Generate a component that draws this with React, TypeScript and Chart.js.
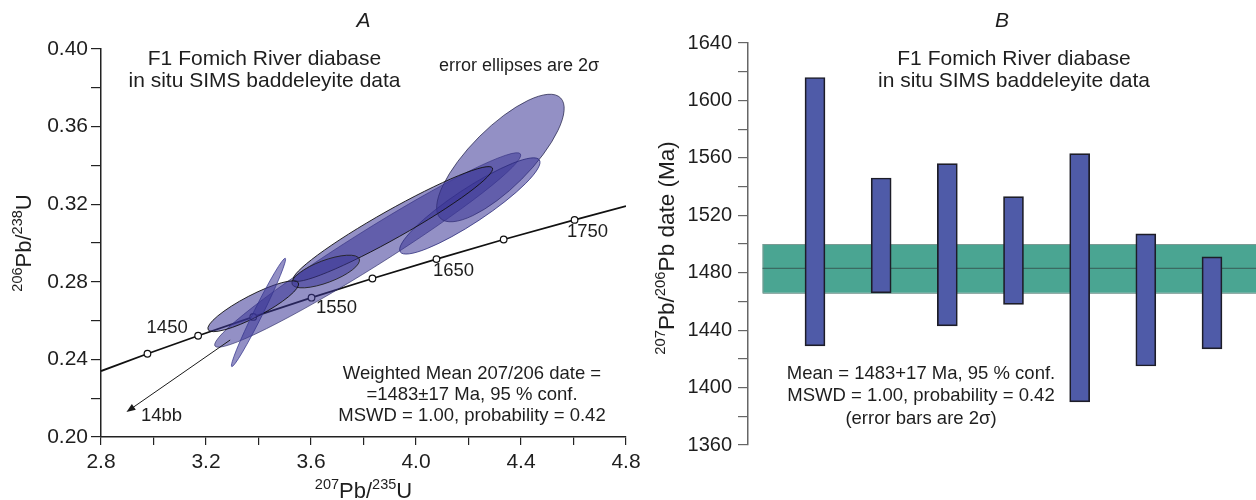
import React, { useEffect, useRef } from "react";
import { Chart, registerables } from "chart.js";

Chart.register(...registerables);

const FONT = '"Liberation Sans", Arial, Helvetica, sans-serif';

// ---------------- Panel A: concordia diagram ----------------
const concordiaX = [2.8, 2.977, 3.17, 3.38, 3.602, 3.834, 4.078, 4.334, 4.604, 4.8];
const concordiaY = [0.234, 0.2429, 0.2522, 0.2619, 0.2718, 0.2817, 0.2917, 0.3018, 0.3119, 0.319];
const markerAges = [1400, 1450, 1500, 1550, 1600, 1650, 1700, 1750];
const markerX = [2.977, 3.17, 3.38, 3.602, 3.834, 4.078, 4.334, 4.604];
const markerY = [0.2429, 0.2522, 0.2619, 0.2718, 0.2817, 0.2917, 0.3018, 0.3119];
const labelledAges = [1450, 1550, 1650, 1750];

// error ellipses: centre, one end of the major axis, minor/major ratio
const ellipseCx = [3.816, 4.3215, 4.205, 3.912, 3.656, 3.38, 3.4];
const ellipseCy = [0.2964, 0.3438, 0.3191, 0.3098, 0.2853, 0.2674, 0.2642];
const ellipseTipX = [4.398, 4.5506, 4.47, 4.291, 3.784, 3.552, 3.502];
const ellipseTipY = [0.3459, 0.3748, 0.3428, 0.3387, 0.2918, 0.2795, 0.2921];
const ellipseRatio = [0.1, 0.353, 0.204, 0.123, 0.31, 0.216, 0.075];

const arrowFrom = [3.292, 0.25];
const arrowTo = [2.897, 0.2129];
const arrowLabel = "14bb";

const titleLines = ["F1 Fomich River diabase", "in situ SIMS baddeleyite data"];
const noteA = "error ellipses are 2\u03C3";
const statsA = [
  "Weighted Mean 207/206 date =",
  "=1483\u00B117 Ma, 95 % conf.",
  "MSWD = 1.00, probability = 0.42",
];

// ---------------- Panel B: 207Pb/206Pb dates ----------------
const analysisNo = [1, 2, 3, 4, 5, 6, 7];
const ageLow = [1429, 1466, 1443, 1458, 1390, 1415, 1427];
const ageHigh = [1616, 1546, 1556, 1533, 1563, 1507, 1491];
const meanAge = 1483;
const meanErr = 17;
const statsB = [
  "Mean = 1483+17 Ma, 95 % conf.",
  "MSWD = 1.00, probability = 0.42",
  "(error bars are 2\u03C3)",
];

// ---------------- styles ----------------
const ellipseFill = "rgba(58,52,150,0.55)";
const ellipseStroke = [
  "rgba(40,40,100,0.7)",
  "rgba(30,30,70,0.8)",
  "rgba(40,40,120,0.85)",
  "#111",
  "#222",
  "#111",
  "rgba(50,50,140,0.8)",
];
const ageLabelOffset: Record<number, [number, number]> = {
  1450: [-31, -8],
  1550: [25, 10],
  1650: [17, 12],
  1750: [13, 12],
};

type Part = [string, boolean];

function drawText(
  ctx: CanvasRenderingContext2D,
  str: string,
  x: number,
  y: number,
  size: number,
  italic = false,
  align: CanvasTextAlign = "center",
  color = "#1e1e1e"
) {
  ctx.save();
  ctx.font = `${italic ? "italic " : ""}${size}px ${FONT}`;
  ctx.fillStyle = color;
  ctx.textAlign = align;
  ctx.textBaseline = "middle";
  ctx.fillText(str, x, y);
  ctx.restore();
}

function drawRich(
  ctx: CanvasRenderingContext2D,
  parts: Part[],
  x: number,
  y: number,
  size: number,
  rotate = false,
  color = "#1e1e1e"
) {
  ctx.save();
  ctx.translate(x, y);
  if (rotate) ctx.rotate(-Math.PI / 2);
  const sup = size * 0.66;
  const widths = parts.map(([t, s]) => {
    ctx.font = `${s ? sup : size}px ${FONT}`;
    return ctx.measureText(t).width;
  });
  const total = widths.reduce((a, b) => a + b, 0);
  let cx = -total / 2;
  const base = size * 0.36;
  ctx.fillStyle = color;
  ctx.textAlign = "left";
  ctx.textBaseline = "alphabetic";
  parts.forEach(([t, s], i) => {
    ctx.font = `${s ? sup : size}px ${FONT}`;
    ctx.fillText(t, cx, s ? base - size * 0.4 : base);
    cx += widths[i];
  });
  ctx.restore();
}

const ellipsePlugin = {
  id: "ellipses",
  afterDatasetsDraw(chart: any) {
    const { ctx, chartArea, scales } = chart;
    const xs = scales.x;
    const ys = scales.y;
    ctx.save();
    ctx.beginPath();
    ctx.rect(chartArea.left, chartArea.top, chartArea.right - chartArea.left, chartArea.bottom - chartArea.top);
    ctx.clip();
    for (let i = 0; i < ellipseCx.length; i++) {
      const px = xs.getPixelForValue(ellipseCx[i]);
      const py = ys.getPixelForValue(ellipseCy[i]);
      const tx = xs.getPixelForValue(ellipseTipX[i]);
      const ty = ys.getPixelForValue(ellipseTipY[i]);
      const a = Math.hypot(tx - px, ty - py);
      const ang = Math.atan2(ty - py, tx - px);
      ctx.beginPath();
      ctx.ellipse(px, py, a, a * ellipseRatio[i], ang, 0, Math.PI * 2);
      ctx.fillStyle = ellipseFill;
      ctx.fill();
      ctx.lineWidth = 0.9;
      ctx.strokeStyle = ellipseStroke[i];
      ctx.stroke();
    }
    ctx.restore();

    // arrow towards 14bb
    const x1 = xs.getPixelForValue(arrowFrom[0]);
    const y1 = ys.getPixelForValue(arrowFrom[1]);
    const x2 = xs.getPixelForValue(arrowTo[0]);
    const y2 = ys.getPixelForValue(arrowTo[1]);
    const ang = Math.atan2(y2 - y1, x2 - x1);
    ctx.save();
    ctx.strokeStyle = "#1a1a1a";
    ctx.fillStyle = "#1a1a1a";
    ctx.lineWidth = 1;
    ctx.beginPath();
    ctx.moveTo(x1, y1);
    ctx.lineTo(x2 - Math.cos(ang) * 6, y2 - Math.sin(ang) * 6);
    ctx.stroke();
    ctx.beginPath();
    ctx.moveTo(x2, y2);
    ctx.lineTo(x2 - Math.cos(ang) * 9 + Math.sin(ang) * 3.5, y2 - Math.sin(ang) * 9 - Math.cos(ang) * 3.5);
    ctx.lineTo(x2 - Math.cos(ang) * 9 - Math.sin(ang) * 3.5, y2 - Math.sin(ang) * 9 + Math.cos(ang) * 3.5);
    ctx.closePath();
    ctx.fill();
    ctx.restore();
    drawText(ctx, arrowLabel, x2 + 35, y2 + 4, 18.5);

    // concordia age labels
    labelledAges.forEach((age) => {
      const k = markerAges.indexOf(age);
      const off = ageLabelOffset[age];
      const mx = xs.getPixelForValue(markerX[k]);
      const my = ys.getPixelForValue(markerY[k]);
      drawText(ctx, String(age), mx + off[0], my + off[1], 18.5);
    });
  },
};

const textPluginA = {
  id: "textA",
  afterDraw(chart: any) {
    const { ctx, chartArea } = chart;
    const cx = (chartArea.left + chartArea.right) / 2;
    drawText(ctx, "A", cx, 21, 21, true);
    drawText(ctx, titleLines[0], 264.5, 59, 21);
    drawText(ctx, titleLines[1], 264.5, 81, 21);
    drawText(ctx, noteA, 519, 66, 18);
    statsA.forEach((s, i) => drawText(ctx, s, 472, 373.5 + i * 21, 18.5));
    drawRich(ctx, [["206", true], ["Pb/", false], ["238", true], ["U", false]], 23, (chartArea.top + chartArea.bottom) / 2, 22, true);
    drawRich(ctx, [["207", true], ["Pb/", false], ["235", true], ["U", false]], cx, 490, 22);
  },
};

const bandPlugin = {
  id: "band",
  beforeDatasetsDraw(chart: any) {
    const { ctx, chartArea, scales } = chart;
    const ys = scales.y;
    const xs = scales.x;
    const top = ys.getPixelForValue(meanAge + meanErr);
    const bot = ys.getPixelForValue(meanAge - meanErr);
    const mid = ys.getPixelForValue(meanAge);
    const left = xs.getPixelForValue(0.208);
    const right = chartArea.right;
    ctx.save();
    ctx.fillStyle = "#4aa592";
    ctx.fillRect(left, top, right - left, bot - top);
    ctx.strokeStyle = "#7a9a93";
    ctx.lineWidth = 1;
    ctx.strokeRect(left + 0.5, top + 0.5, right - left, bot - top);
    ctx.strokeStyle = "#3b6a62";
    ctx.lineWidth = 1.2;
    ctx.beginPath();
    ctx.moveTo(left, mid);
    ctx.lineTo(right, mid);
    ctx.stroke();
    ctx.restore();
  },
};

const textPluginB = {
  id: "textB",
  afterDraw(chart: any) {
    const { ctx, chartArea } = chart;
    const cx = (chartArea.left + chartArea.right) / 2;
    drawText(ctx, "B", cx, 21, 21, true);
    drawText(ctx, titleLines[0], 374, 59, 21);
    drawText(ctx, titleLines[1], 374, 81, 21);
    statsB.forEach((s, i) => drawText(ctx, s, 281, 373.5 + i * 22.5, 18.5));
    drawRich(
      ctx,
      [["207", true], ["Pb/", false], ["206", true], ["Pb date (Ma)", false]],
      26,
      248,
      22.5,
      true
    );
  },
};

export default function App() {
  const refA = useRef<HTMLCanvasElement>(null);
  const refB = useRef<HTMLCanvasElement>(null);

  useEffect(() => {
    const tickFont = { family: FONT, size: 21 };
    const chartA = new Chart(refA.current as HTMLCanvasElement, {
      type: "scatter",
      data: {
        datasets: [
          {
            type: "line",
            data: concordiaX.map((x, i) => ({ x, y: concordiaY[i] })),
            borderColor: "#111",
            borderWidth: 1.8,
            pointRadius: 0,
            fill: false,
            tension: 0,
            order: 2,
          } as any,
          {
            type: "scatter",
            data: markerX.map((x, i) => ({ x, y: markerY[i] })),
            pointRadius: 3.3,
            pointBackgroundColor: "#fff",
            pointBorderColor: "#111",
            pointBorderWidth: 1.2,
            order: 1,
          } as any,
        ],
      },
      options: {
        responsive: false,
        animation: false,
        events: [],
        layout: { padding: { top: 49, right: 14, left: 0, bottom: 0 } },
        plugins: { legend: { display: false }, tooltip: { enabled: false } },
        scales: {
          x: {
            type: "linear",
            min: 2.8,
            max: 4.8,
            border: { display: true, color: "#222", width: 1.5 },
            grid: { drawOnChartArea: false, drawTicks: true, tickLength: 8, color: "#222", lineWidth: 1.2 },
            ticks: {
              stepSize: 0.2,
              autoSkip: false,
              maxRotation: 0,
              padding: 5,
              color: "#1e1e1e",
              font: tickFont,
              callback: (v: any) => (Math.round((Number(v) - 2.8) * 10) % 4 === 0 ? Number(v).toFixed(1) : ""),
            },
            afterFit: (s: any) => {
              s.height = 63;
              s.paddingLeft = 0;
              s.paddingRight = 0;
            },
          },
          y: {
            type: "linear",
            min: 0.2,
            max: 0.4,
            border: { display: true, color: "#222", width: 1.5 },
            grid: { drawOnChartArea: false, drawTicks: true, tickLength: 10, color: "#222", lineWidth: 1.2 },
            ticks: {
              stepSize: 0.02,
              autoSkip: false,
              padding: 3,
              color: "#1e1e1e",
              font: tickFont,
              callback: (v: any) => (Math.round((Number(v) - 0.2) * 100) % 4 === 0 ? Number(v).toFixed(2) : ""),
            },
            afterFit: (s: any) => {
              s.width = 101;
              s.paddingTop = 0;
              s.paddingBottom = 0;
            },
          },
        },
      } as any,
      plugins: [ellipsePlugin, textPluginA],
    });

    const chartB = new Chart(refB.current as HTMLCanvasElement, {
      type: "bar",
      data: {
        datasets: [
          {
            data: analysisNo.map((x, i) => ({ x, y: [ageLow[i], ageHigh[i]] })),
            backgroundColor: "#4f5ba8",
            borderColor: "#1d1d28",
            borderWidth: 1.7,
            borderSkipped: false,
            barThickness: 20,
          } as any,
        ],
      },
      options: {
        responsive: false,
        animation: false,
        events: [],
        layout: { padding: { top: 43, right: 0, left: 0, bottom: 55 } },
        plugins: { legend: { display: false }, tooltip: { enabled: false } },
        scales: {
          x: {
            type: "linear",
            min: -0.0125,
            max: 7.665,
            offset: false,
            display: false,
          },
          y: {
            type: "linear",
            min: 1360,
            max: 1640,
            border: { display: true, color: "#666", width: 1.5 },
            grid: { drawOnChartArea: false, drawTicks: true, tickLength: 10, color: "#666", lineWidth: 1.2 },
            ticks: {
              stepSize: 20,
              autoSkip: false,
              padding: 6,
              color: "#1e1e1e",
              font: { family: FONT, size: 20 },
              callback: (v: any) => (Math.round(Number(v) - 1360) % 40 === 0 ? String(Math.round(Number(v))) : ""),
            },
            afterFit: (s: any) => {
              s.width = 108;
              s.paddingTop = 0;
              s.paddingBottom = 0;
            },
          },
        },
      } as any,
      plugins: [bandPlugin, textPluginB],
    });

    return () => {
      chartA.destroy();
      chartB.destroy();
    };
  }, []);

  return (
    <div style={{ position: "fixed", left: 0, top: 0, width: 1256, height: 500, background: "#fff" }}>
      <canvas
        ref={refA}
        width={640}
        height={500}
        style={{ position: "absolute", left: 0, top: 0, width: 640, height: 500 }}
      />
      <canvas
        ref={refB}
        width={616}
        height={500}
        style={{ position: "absolute", left: 640, top: 0, width: 616, height: 500 }}
      />
    </div>
  );
}
